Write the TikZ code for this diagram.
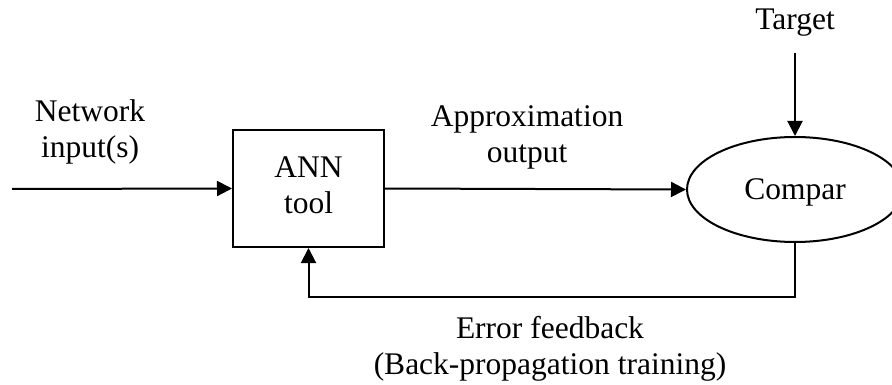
\documentclass[tikz,border=0pt]{standalone}
\usepackage{fontspec}
\setmainfont{Liberation Serif}
\usetikzlibrary{arrows.meta,shapes.geometric}
\begin{document}
\begin{tikzpicture}[x=1pt,y=-1pt,
  every node/.style={font=\fontsize{31.5}{36}\selectfont, align=center, inner sep=0pt},
  lbl/.style={anchor=base},
  conn/.style={line width=2pt, -{Triangle[length=15pt,width=15pt]}},
  blockbox/.style={draw, line width=2pt, minimum width=151pt, minimum height=117pt},
  cmpshape/.style={draw, ellipse, line width=2pt, minimum width=216pt, minimum height=105pt}]
\clip (0,0) rectangle (892,385);
\node[blockbox] (ann) at (308.5,188.5) {};
\node[lbl] (anntext) at (308.5,214) {ANN\\tool};
\node[cmpshape] (cmp) at (795,189.5) {};
\node[lbl] (cmptext) at (795,200) {Compar};
\node[lbl] (tgt) at (795,30) {Target};
\node[lbl] (netin) at (90,158) {Network\\input(s)};
\node[lbl] (approx) at (527,163) {Approximation\\output};
\node[lbl] (err) at (550,374) {Error feedback\\(Back-propagation training)};
\coordinate (in0) at (12,189);
\coordinate (t0) at (795,53);
\draw[conn] (in0) -- (ann.west);
\draw[conn] (ann.east) -- (cmp.west);
\draw[conn] (t0) -- (cmp);
\draw[conn] (cmp.south) -- ++(0,54) -| (ann.south);
\end{tikzpicture}
\end{document}
